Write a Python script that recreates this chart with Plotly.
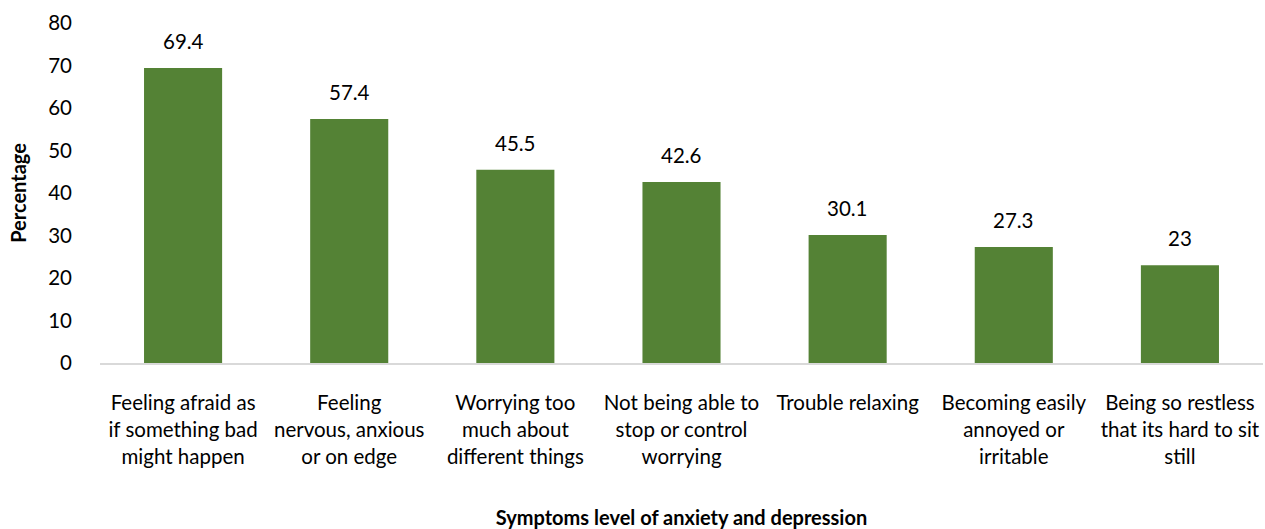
import plotly.graph_objects as go

categories = [
    "Feeling afraid as<br>if something bad<br>might happen",
    "Feeling<br>nervous, anxious<br>or on edge",
    "Worrying too<br>much about<br>different things",
    "Not being able to<br>stop or control<br>worrying",
    "Trouble relaxing",
    "Becoming easily<br>annoyed or<br>irritable",
    "Being so restless<br>that its hard to sit<br>still",
]
values = [69.4, 57.4, 45.5, 42.6, 30.1, 27.3, 23]
labels = ["69.4", "57.4", "45.5", "42.6", "30.1", "27.3", "23"]

FONT = "Lato"
fig = go.Figure(go.Bar(x=categories, y=values, marker=dict(color="#548235", line=dict(width=0)), width=0.47))

for c, v, t in zip(categories, values, labels):
    fig.add_annotation(x=c, y=v, text=t, showarrow=False, yanchor="bottom", yshift=13,
                       font=dict(family=FONT, size=20.5, color="#000"))

fig.update_layout(
    width=1265, height=529,
    margin=dict(l=100, r=2, t=23, b=166),
    plot_bgcolor="white", paper_bgcolor="white",
    font=dict(family=FONT, size=20.5, color="#000"),
    showlegend=False,
    xaxis=dict(
        showline=True, linecolor="#d9d9d9", linewidth=1.5, automargin=False,
        ticks="", ticklabelstandoff=21,
        title=dict(text="<b>Symptoms level of anxiety and depression</b>", font=dict(size=20), standoff=48),
    ),
    yaxis=dict(
        range=[0, 80], dtick=10, showgrid=False, zeroline=False, showline=False, automargin=False,
        ticks="", ticklabelstandoff=27,
        title=dict(text="<b>Percentage</b>", font=dict(size=20), standoff=16),
    ),
)
fig.write_html("out.html")
